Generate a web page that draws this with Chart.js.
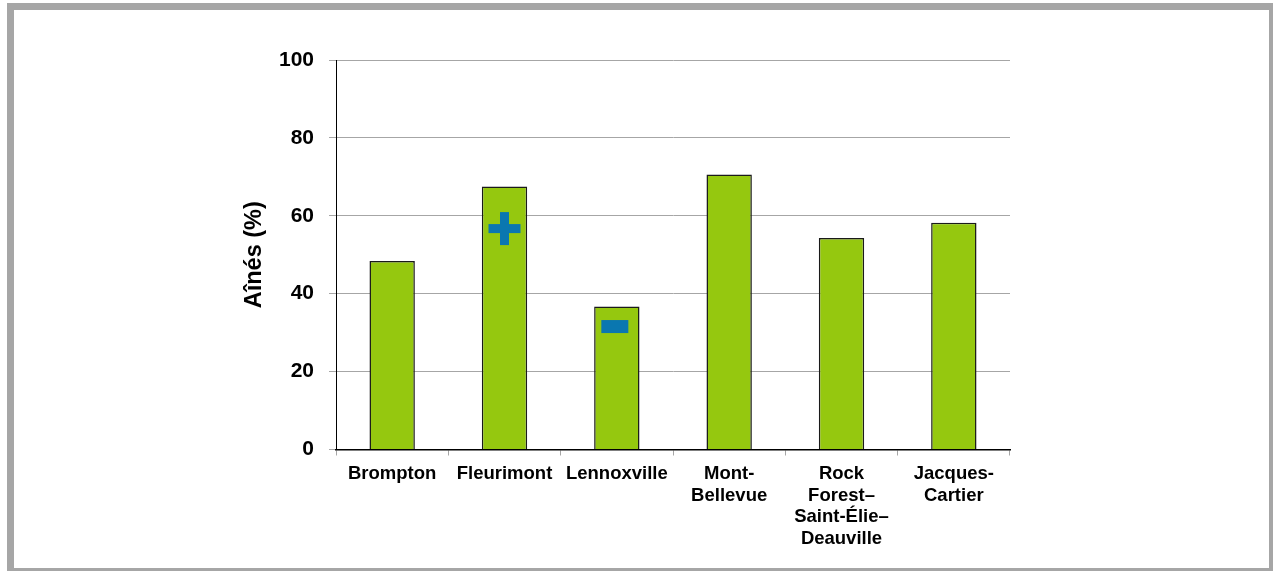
<!DOCTYPE html>
<html lang="fr">
<head>
<meta charset="utf-8">
<title>Aînés (%) par arrondissement</title>
<script src="https://cdn.jsdelivr.net/npm/chart.js@4/dist/chart.umd.min.js"></script>
<style>
  html, body { margin: 0; padding: 0; background: #fff; overflow: hidden; }
  #frame {
    position: absolute; left: 7px; top: 3px;
    width: 1255px; height: 558px;
    border: 7px solid #a6a6a6;
  }
  #wrap { position: absolute; left: 0; top: 0; width: 1273px; height: 571px; }
</style>
</head>
<body>
<div id="frame"></div>
<div id="wrap"><canvas id="chart" width="1273" height="571"></canvas></div>
<script>
// Arrondissements and share of seniors (%)
const categories = [
  'Brompton',
  'Fleurimont',
  'Lennoxville',
  ['Mont-', 'Bellevue'],
  ['Rock', 'Forest–', 'Saint-Élie–', 'Deauville'],
  ['Jacques-', 'Cartier']
];
const seniorsPct = [48.4, 67.5, 36.7, 70.6, 54.3, 58.2];
// Significance flag per arrondissement: '+' higher, '-' lower, '' none
const significance = ['', '+', '-', '', '', ''];
const yTicks = [0, 20, 40, 60, 80, 100];

const FONT = '"Liberation Sans", Arial, Helvetica, sans-serif';
const GRID = '#a6a6a6';
const MARK = '#0a77b0';

// Draws the + / − significance symbols inside the flagged bars
const signifPlugin = {
  id: 'signif',
  afterDatasetsDraw(chart) {
    const ctx = chart.ctx;
    const meta = chart.getDatasetMeta(0);
    ctx.save();
    ctx.fillStyle = MARK;
    significance.forEach((s, i) => {
      const bar = meta.data[i];
      if (!bar || !s) return;
      const x = bar.x;
      if (s === '+') {
        const cy = bar.y + 42;
        ctx.fillRect(x - 16, cy - 4.5, 32, 9);
        ctx.fillRect(x - 4.5, cy - 16.5, 9, 33);
      } else if (s === '-') {
        const cy = bar.y + 20;
        ctx.fillRect(x - 15.5, cy - 6.5, 27, 13);
      }
    });
    ctx.restore();
  }
};

new Chart(document.getElementById('chart'), {
  type: 'bar',
  data: {
    labels: categories,
    datasets: [{
      data: seniorsPct,
      backgroundColor: '#95c80f',
      borderColor: '#1a1a1a',
      borderWidth: 1.5,
      borderSkipped: 'bottom',
      barPercentage: 0.404,
      categoryPercentage: 1
    }]
  },
  options: {
    responsive: false,
    animation: false,
    events: [],
    layout: { padding: { left: 240, top: 60, right: 263, bottom: 0 } },
    plugins: {
      legend: { display: false },
      tooltip: { enabled: false }
    },
    scales: {
      x: {
        offset: true,
        grid: {
          display: true,
          drawOnChartArea: false,
          drawTicks: true,
          tickLength: 6,
          color: GRID,
          offset: true
        },
        border: { display: true, color: '#000', width: 1.5 },
        ticks: {
          color: '#000',
          padding: 8,
          maxRotation: 0,
          autoSkip: false,
          font: { family: FONT, size: 18.5, weight: 'bold', lineHeight: '21.5px' }
        },
        afterFit(scale) { scale.height = 121.5; }
      },
      y: {
        min: yTicks[0],
        max: yTicks[yTicks.length - 1],
        afterBuildTicks(scale) { scale.ticks = yTicks.map(v => ({ value: v })); },
        grid: {
          color: GRID,
          lineWidth: 1,
          drawTicks: true,
          tickLength: 7
        },
        border: { display: true, color: '#000', width: 1 },
        ticks: {
          color: '#000',
          padding: 15,
          font: { family: FONT, size: 21, weight: 'bold' }
        },
        title: {
          display: true,
          text: 'Aînés (%)',
          color: '#000',
          padding: { top: 0, bottom: 0 },
          font: { family: FONT, size: 23.5, weight: 'bold', lineHeight: 1.2 }
        },
        afterFit(scale) { scale.width = 96; }
      }
    }
  },
  plugins: [signifPlugin]
});
</script>
</body>
</html>
